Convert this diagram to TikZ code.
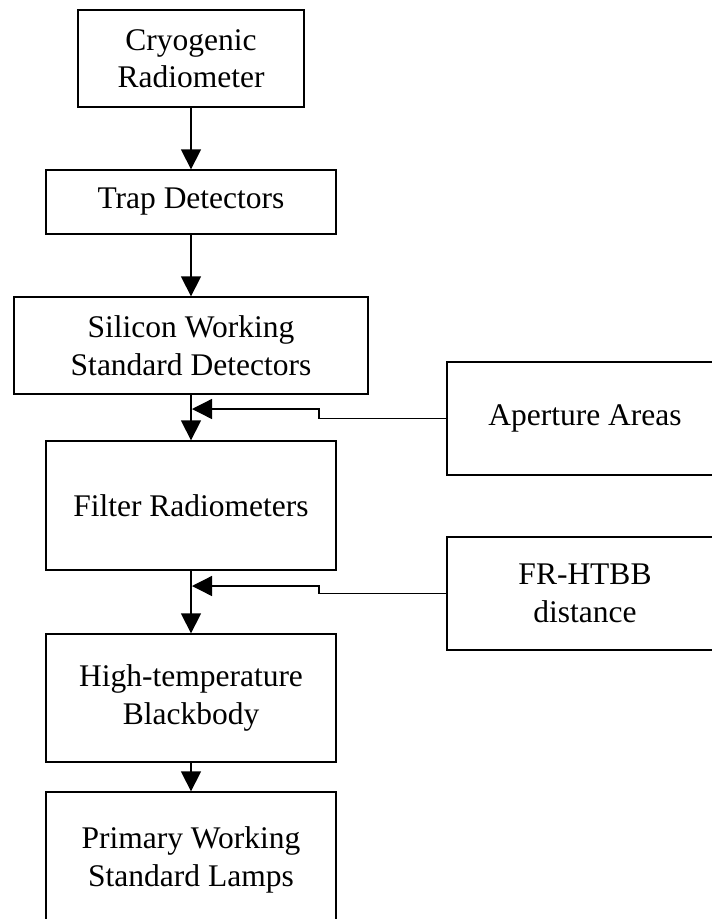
\documentclass[tikz,border=0pt]{standalone}
\usepackage{fontspec}
\setmainfont{Liberation Serif}
\usetikzlibrary{arrows.meta}
\begin{document}
\begin{tikzpicture}[x=1pt,y=-1pt,
  box/.style={draw, line width=1.3pt, inner sep=0pt, align=center,
    font=\fontsize{31.5}{37.5}\selectfont},
  arr/.style={line width=1.3pt, -{Triangle[length=20pt,width=20pt]}}]
\useasboundingbox (0,0) rectangle (712,919);
\node[box, minimum width=226pt, minimum height=97pt] (cryo) at (191,58.5) {Cryogenic\\Radiometer};
\node[box, minimum width=290pt, minimum height=64pt] (trap) at (191,202) {Trap Detectors};
\node[box, minimum width=354pt, minimum height=97pt] (si) at (191,345.5) {Silicon Working\\Standard Detectors};
\node[box, minimum width=290pt, minimum height=129pt] (fr) at (191,505.5) {Filter Radiometers};
\node[box, minimum width=290pt, minimum height=128pt] (htbb) at (191,698) {High-temperature\\Blackbody};
\node[box, minimum width=290pt, minimum height=136pt] (lamps) at (191,860) {Primary Working\\Standard Lamps};
\node[box, minimum width=276pt, minimum height=113pt] (ap) at (585,418.5) {Aperture Areas};
\node[box, minimum width=276pt, minimum height=113pt] (dist) at (585,593.5) {FR-HTBB\\distance};
\draw[arr] (cryo) -- (trap);
\draw[arr] (trap) -- (si);
\draw[arr] (si) -- (fr);
\draw[arr] (fr) -- (htbb);
\draw[arr] (htbb) -- (lamps);
\coordinate (m1) at (192,409);
\coordinate (m2) at (192,586);
\draw[arr] (ap.west) -- (319,418.5) -- (319,409) -- (m1);
\draw[arr] (dist.west) -- (319,593.5) -- (319,586) -- (m2);
\end{tikzpicture}
\end{document}
